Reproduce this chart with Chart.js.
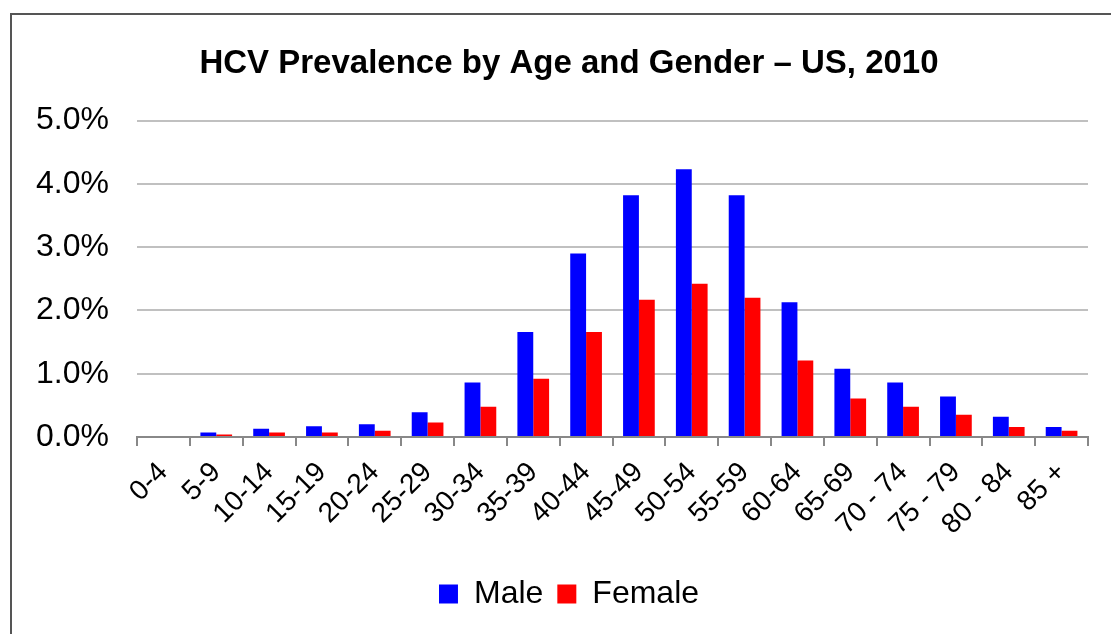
<!DOCTYPE html>
<html>
<head>
  <title>HCV Prevalence by Age and Gender</title>
  <script src="https://cdn.jsdelivr.net/npm/chart.js"></script>
  <style>
    html, body {
      margin: 0;
      padding: 0;
      background: #fff;
      overflow: hidden;
    }
    .frame {
      position: absolute;
      left: 10px;
      top: 13px;
      width: 1116px;
      height: 640px;
      border: 2px solid #555;
      border-right: none;
      border-bottom: none;
    }
    .chart-container {
      position: absolute;
      left: 12px;
      top: 15px;
      width: 1112px;
      height: 619px;
    }
  </style>
</head>
<body>
  <div class="frame"></div>
  <div class="chart-container">
    <canvas id="chartHCV"></canvas>
  </div>
  <script>
    // age groups and prevalence (%)
    const ageGroups = ['0-4', '5-9', '10-14', '15-19', '20-24', '25-29', '30-34', '35-39', '40-44',
      '45-49', '50-54', '55-59', '60-64', '65-69', '70 - 74', '75 - 79', '80 - 84', '85 +'];
    const male = [0, 0.07, 0.13, 0.17, 0.20, 0.39, 0.86, 1.66, 2.90, 3.82, 4.23, 3.82, 2.13, 1.08, 0.86, 0.64, 0.32, 0.16];
    const female = [0, 0.04, 0.07, 0.07, 0.10, 0.23, 0.48, 0.92, 1.66, 2.17, 2.42, 2.20, 1.21, 0.61, 0.48, 0.35, 0.16, 0.10];
    const yTicks = [0, 1, 2, 3, 4, 5];

    const fontFamily = '"Liberation Sans", Arial, sans-serif';

    // title and legend sit centred on the whole frame, not on the padded box
    const shiftBoxes = {
      id: 'shiftBoxes',
      afterLayout(chart) {
        [chart.titleBlock, chart.legend].forEach(box => {
          if (box) {
            box.left += 8;
            box.right += 8;
          }
        });
      }
    };

    function createChart(canvasId) {
      const ctx = document.getElementById(canvasId).getContext('2d');
      new Chart(ctx, {
        type: 'bar',
        data: {
          labels: ageGroups,
          datasets: [
            { label: 'Male', data: male, backgroundColor: '#0000ff' },
            { label: 'Female', data: female, backgroundColor: '#ff0000' }
          ]
        },
        options: {
          responsive: true,
          maintainAspectRatio: false,
          animation: false,
          datasets: {
            bar: { categoryPercentage: 0.6, barPercentage: 1.0 }
          },
          layout: {
            padding: { left: 22, right: 36, top: 0, bottom: 14 }
          },
          plugins: {
            title: {
              display: true,
              text: 'HCV Prevalence by Age and Gender \u2013 US, 2010',
              color: '#000',
              font: { family: fontFamily, size: 33, weight: 'bold' },
              padding: { top: 29, bottom: 37 }
            },
            legend: {
              position: 'bottom',
              labels: {
                color: '#000',
                boxWidth: 19,
                boxHeight: 19,
                padding: 14,
                font: { family: fontFamily, size: 32 }
              }
            },
            tooltip: { enabled: false }
          },
          scales: {
            x: {
              afterFit: axis => {
                // keep the rotated labels from pushing the plot around
                axis.paddingLeft = 0;
                axis.paddingRight = 0;
                axis.height = 127;
              },
              grid: {
                drawOnChartArea: false,
                color: '#888',
                lineWidth: 2,
                tickLength: 9
              },
              border: { color: '#888', width: 2 },
              ticks: {
                color: '#000',
                autoSkip: false,
                minRotation: 45,
                maxRotation: 45,
                padding: 10,
                font: { family: fontFamily, size: 28 }
              }
            },
            y: {
              min: 0,
              max: 5,
              afterFit: axis => {
                axis.width = 103;
              },
              afterBuildTicks: axis => {
                axis.ticks = yTicks.map(v => ({ value: v }));
              },
              grid: {
                color: '#c0c0c0',
                lineWidth: 2,
                drawTicks: false
              },
              border: { display: false },
              ticks: {
                color: '#000',
                padding: 28,
                font: { family: fontFamily, size: 32 },
                callback: v => v.toFixed(1) + '%'
              }
            }
          }
        },
        plugins: [shiftBoxes]
      });
    }

    createChart('chartHCV');
  </script>
</body>
</html>
